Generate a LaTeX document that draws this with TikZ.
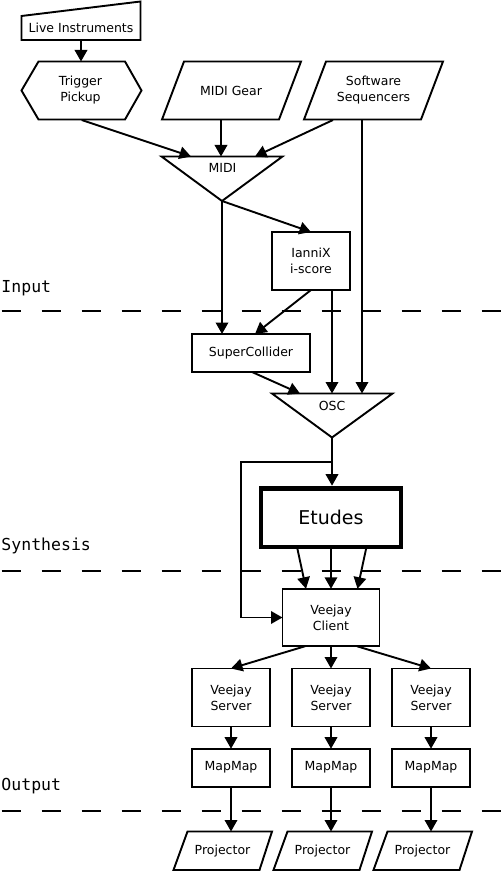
\documentclass[tikz,border=0pt]{standalone}
\usepackage{fontspec}
\setmainfont{DejaVu Sans}
\setmonofont{DejaVu Sans Mono}
\usetikzlibrary{arrows.meta}
\begin{document}
\begin{tikzpicture}[x=1pt,y=-1pt,
  every node/.style={font=\fontsize{12.5}{16}\selectfont, align=center, inner sep=0pt, outer sep=0pt},
  ln/.style={line width=1.9pt, line join=miter},
  arr/.style={ln, -{Triangle[length=11.5pt,width=12.5pt]}},
  box/.style={draw, line width=1.9pt, minimum width=78.5pt, minimum height=58pt},
  lbl/.style={font=\fontsize{16.5}{20}\selectfont\ttfamily, anchor=base west},
  sep/.style={line width=2pt, dash pattern=on 19.5pt off 20.5pt}
]
\useasboundingbox (0,0) rectangle (503,874);

% separators and section labels
\draw[sep] (1.7,310.7) -- (503,310.7);
\draw[sep] (1.7,570.7) -- (503,570.7);
\draw[sep] (1.7,810.7) -- (503,810.7);
\node[lbl] (inp) at (1.5,292) {Input};
\node[lbl] (syn) at (1.5,550.7) {Synthesis};
\node[lbl] (out) at (1.5,790.7) {Output};

% Live Instruments (manual input)
\draw[ln] (21.5,16) -- (140.5,1.5) -- (140.5,40) -- (21.5,40) -- cycle;
\node (live) at (81,28.3) {Live Instruments};

% Trigger Pickup (hexagon)
\draw[ln] (38.5,61.5) -- (125,61.5) -- (141.5,90.5) -- (125,119.5) -- (38.5,119.5) -- (21.5,90.5) -- cycle;
\node (trig) at (80.5,90.5) {Trigger\\Pickup};

% MIDI Gear, Software Sequencers (parallelograms)
\draw[ln] (184,61.5) -- (301,61.5) -- (279,119.5) -- (162,119.5) -- cycle;
\node (gear) at (231,90.5) {MIDI Gear};
\draw[ln] (326,61.5) -- (443,61.5) -- (421,119.5) -- (304,119.5) -- cycle;
\node (soft) at (373.5,90.5) {Software\\Sequencers};

% MIDI and OSC (inverted triangles)
\draw[ln] (161.5,156.5) -- (282.5,156.5) -- (222,201) -- cycle;
\node (midi) at (222.5,167.5) {MIDI};
\draw[ln] (272,393.5) -- (392.5,393.5) -- (332,437.5) -- cycle;
\node (osc) at (332,405.5) {OSC};

% boxes
\node[box] (ianx) at (311,261) {IanniX\\i-score};
\node[box, minimum width=118.5pt, minimum height=38pt] (sc) at (251,353) {SuperCollider};
\node[box, line width=4.7pt, minimum width=140pt, minimum height=58.7pt, font=\fontsize{19}{22}\selectfont] (et) at (331,517.5) {Etudes};
\node[box, minimum width=97pt, minimum height=57.5pt] (vc) at (331,617.5) {Veejay\\Client};
\node[box] (vs1) at (231,697.5) {Veejay\\Server};
\node[box] (vs2) at (331,697.5) {Veejay\\Server};
\node[box] (vs3) at (431,697.5) {Veejay\\Server};
\node[box, minimum height=38pt] (mm1) at (231,767.7) {MapMap};
\node[box, minimum height=38pt] (mm2) at (331,767.7) {MapMap};
\node[box, minimum height=38pt] (mm3) at (431,767.7) {MapMap};

% Projectors
\foreach \i/\n in {0/1,100/2,200/3}{
  \draw[ln] (187.5+\i,831.5) -- (272+\i,831.5) -- (259.5+\i,870) -- (173.5+\i,870) -- cycle;
  \node (p\n) at (222.5+\i,851) {Projector};
  \coordinate (p\n T) at (231+\i,831.5);
}

% connection points
\coordinate (liveB) at (81,40);
\coordinate (trigT) at (81,61.5);
\coordinate (trigB) at (81.7,120);
\coordinate (midiT1) at (191,156.5);
\coordinate (gearB) at (221,120);
\coordinate (midiT2) at (221,156.5);
\coordinate (softB1) at (333,120);
\coordinate (midiT3) at (255,156.5);
\coordinate (softB2) at (362,120);
\coordinate (oscT3) at (362,393.5);
\coordinate (midiB) at (222,201);
\coordinate (oscT1) at (300,393.5);
\coordinate (oscT2) at (332,393.5);
\coordinate (oscB) at (332,437.5);
\coordinate (etT) at (332,485.7);
\coordinate (fork) at (332,462.3);
\coordinate (loopA) at (241,462.3);

% connectors
\draw[arr] (liveB) -- (trigT);
\draw[arr] (trigB) -- (midiT1);
\draw[arr] (gearB) -- (midiT2);
\draw[arr] (softB1) -- (midiT3);
\draw[arr] (softB2) -- (oscT3);
\draw[arr] (midiB) -- (ianx.north);
\draw[arr] (midiB) -- (midiB |- sc.north);
\draw[arr] (ianx.south) -- ([xshift=4pt]sc.north);
\draw[arr] (ianx.south -| oscT2) -- (oscT2);
\draw[arr] ([xshift=1pt]sc.south) -- (oscT1);
\draw[arr] (oscB) -- (etT);
\draw[arr] (fork) -- (loopA) |- (vc.west);
\draw[arr] ([xshift=-34pt]et.south) -- ([xshift=-25pt]vc.north);
\draw[arr] (et.south) -- (vc.north);
\draw[arr] ([xshift=35.5pt]et.south) -- ([xshift=26.5pt]vc.north);
\draw[arr] ([xshift=-26pt]vc.south) -- (vs1.north);
\draw[arr] (vc.south) -- (vs2.north);
\draw[arr] ([xshift=26pt]vc.south) -- (vs3.north);
\draw[arr] (vs1.south) -- (mm1.north);
\draw[arr] (vs2.south) -- (mm2.north);
\draw[arr] (vs3.south) -- (mm3.north);
\draw[arr] (mm1.south) -- (p1T);
\draw[arr] (mm2.south) -- (p2T);
\draw[arr] (mm3.south) -- (p3T);
\end{tikzpicture}
\end{document}
